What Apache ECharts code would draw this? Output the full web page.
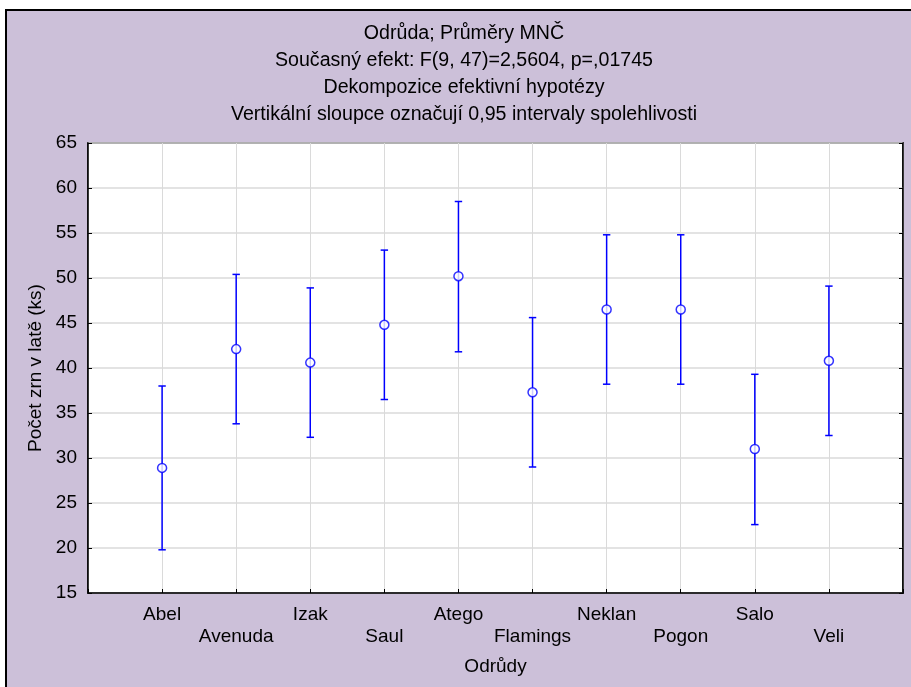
<!DOCTYPE html>
<html>
<head>
<meta charset="utf-8">
<script src="https://cdn.jsdelivr.net/npm/echarts@6/dist/echarts.min.js"></script>
<style>
  html, body { margin: 0; padding: 0; background: #ffffff; }
  #chart { width: 911px; height: 687px; }
</style>
</head>
<body>
<div id="chart"></div>
<script>
// Variety names along the horizontal axis
const categories = ['Abel', 'Avenuda', 'Izak', 'Saul', 'Atego', 'Flamings', 'Neklan', 'Pogon', 'Salo', 'Veli'];
// Least-squares means per variety
const means = [28.9, 42.1, 40.6, 44.8, 50.2, 37.3, 46.5, 46.5, 31.0, 40.8];
// 0.95 confidence interval bounds
const lower = [19.8, 33.8, 32.3, 36.5, 41.8, 29.0, 38.2, 38.2, 22.6, 32.5];
const upper = [38.0, 50.4, 48.9, 53.1, 58.5, 45.6, 54.8, 54.8, 39.3, 49.1];

const titleLines = [
  'Odrůda; Průměry MNČ',
  'Současný efekt: F(9, 47)=2,5604, p=,01745',
  'Dekompozice efektivní hypotézy',
  'Vertikální sloupce označují 0,95 intervaly spolehlivosti'
];
const yAxisTitle = 'Počet zrn v latě (ks)';
const xAxisTitle = 'Odrůdy';

const FONT = '"Liberation Sans", Arial, sans-serif';
const FS = 19;
const TITLE_FS = 19.6;
const BLUE = '#0000ff';
const GRIDC = '#dadada';

const chart = echarts.init(document.getElementById('chart'), null, { renderer: 'canvas' });

const meanPoints = means.map((m, i) => [i + 1, m]);
const barPoints = means.map((m, i) => [i + 1, lower[i], upper[i]]);

// Four centred heading lines
const titleGraphics = titleLines.map((t, i) => ({
  type: 'text',
  z: 10,
  style: {
    x: 464, y: 34 + i * 27,
    text: t,
    align: 'center', verticalAlign: 'middle',
    fill: '#000', font: TITLE_FS + 'px ' + FONT
  }
}));

chart.setOption({
  animation: false,
  backgroundColor: '#ffffff',
  graphic: [
    {
      type: 'rect', z: -10, silent: true,
      shape: { x: 6, y: 10, width: 930, height: 700 },
      style: { fill: '#ccc0d9', stroke: '#000', lineWidth: 2 }
    }
  ].concat(titleGraphics),
  grid: {
    left: 88, top: 143, right: 8, bottom: 94,
    show: true, backgroundColor: '#ffffff', borderColor: '#000', borderWidth: 1.5
  },
  xAxis: [{
    type: 'value', min: 0, max: 11, interval: 1,
    axisLine: { show: true, lineStyle: { color: '#000', width: 1.5 } },
    axisTick: { show: true, inside: true, length: 4, lineStyle: { color: '#000' } },
    splitLine: { show: true, lineStyle: { color: GRIDC, width: 1 } },
    axisLabel: {
      margin: 11, color: '#000', fontSize: FS, fontFamily: FONT, lineHeight: 22,
      formatter: v => {
        const i = Math.round(v) - 1;
        if (i < 0 || i >= categories.length) return '';
        return (i % 2 === 1 ? '\n' : '') + categories[i];
      }
    },
    name: xAxisTitle, nameLocation: 'middle', nameGap: 64,
    nameTextStyle: { color: '#000', fontSize: FS, fontFamily: FONT }
  }],
  yAxis: [{
    type: 'value', min: 15, max: 65, interval: 5,
    axisLine: { show: true, lineStyle: { color: '#000', width: 1.5 } },
    axisTick: { show: true, inside: true, length: 4, lineStyle: { color: '#000' } },
    splitLine: { show: true, lineStyle: { color: GRIDC, width: 1.5 } },
    axisLabel: { margin: 11, color: '#000', fontSize: FS, fontFamily: FONT },
    name: yAxisTitle, nameLocation: 'middle', nameGap: 43,
    nameTextStyle: { color: '#000', fontSize: FS, fontFamily: FONT }
  }, {
    type: 'value', min: 15, max: 65, interval: 5, position: 'right',
    axisLine: { show: true, lineStyle: { color: '#000', width: 1.5 } },
    axisTick: { show: true, inside: true, length: 4, lineStyle: { color: '#000' } },
    splitLine: { show: false },
    axisLabel: { show: false }
  }],
  series: [
    {
      type: 'custom',
      z: 3,
      data: barPoints,
      renderItem: function (params, api) {
        const x = api.value(0);
        const lo = api.coord([x, api.value(1)]);
        const hi = api.coord([x, api.value(2)]);
        const hw = 3.7;
        const st = { stroke: BLUE, lineWidth: 1.5 };
        return {
          type: 'group',
          children: [
            { type: 'line', shape: { x1: lo[0], y1: lo[1], x2: hi[0], y2: hi[1] }, style: st },
            { type: 'line', shape: { x1: lo[0] - hw, y1: lo[1], x2: lo[0] + hw, y2: lo[1] }, style: st },
            { type: 'line', shape: { x1: hi[0] - hw, y1: hi[1], x2: hi[0] + hw, y2: hi[1] }, style: st }
          ]
        };
      }
    },
    {
      type: 'scatter',
      z: 5,
      data: meanPoints,
      symbol: 'circle',
      symbolSize: 9,
      itemStyle: { color: '#ffffff', borderColor: BLUE, borderWidth: 1.5 }
    }
  ]
});
</script>
</body>
</html>
